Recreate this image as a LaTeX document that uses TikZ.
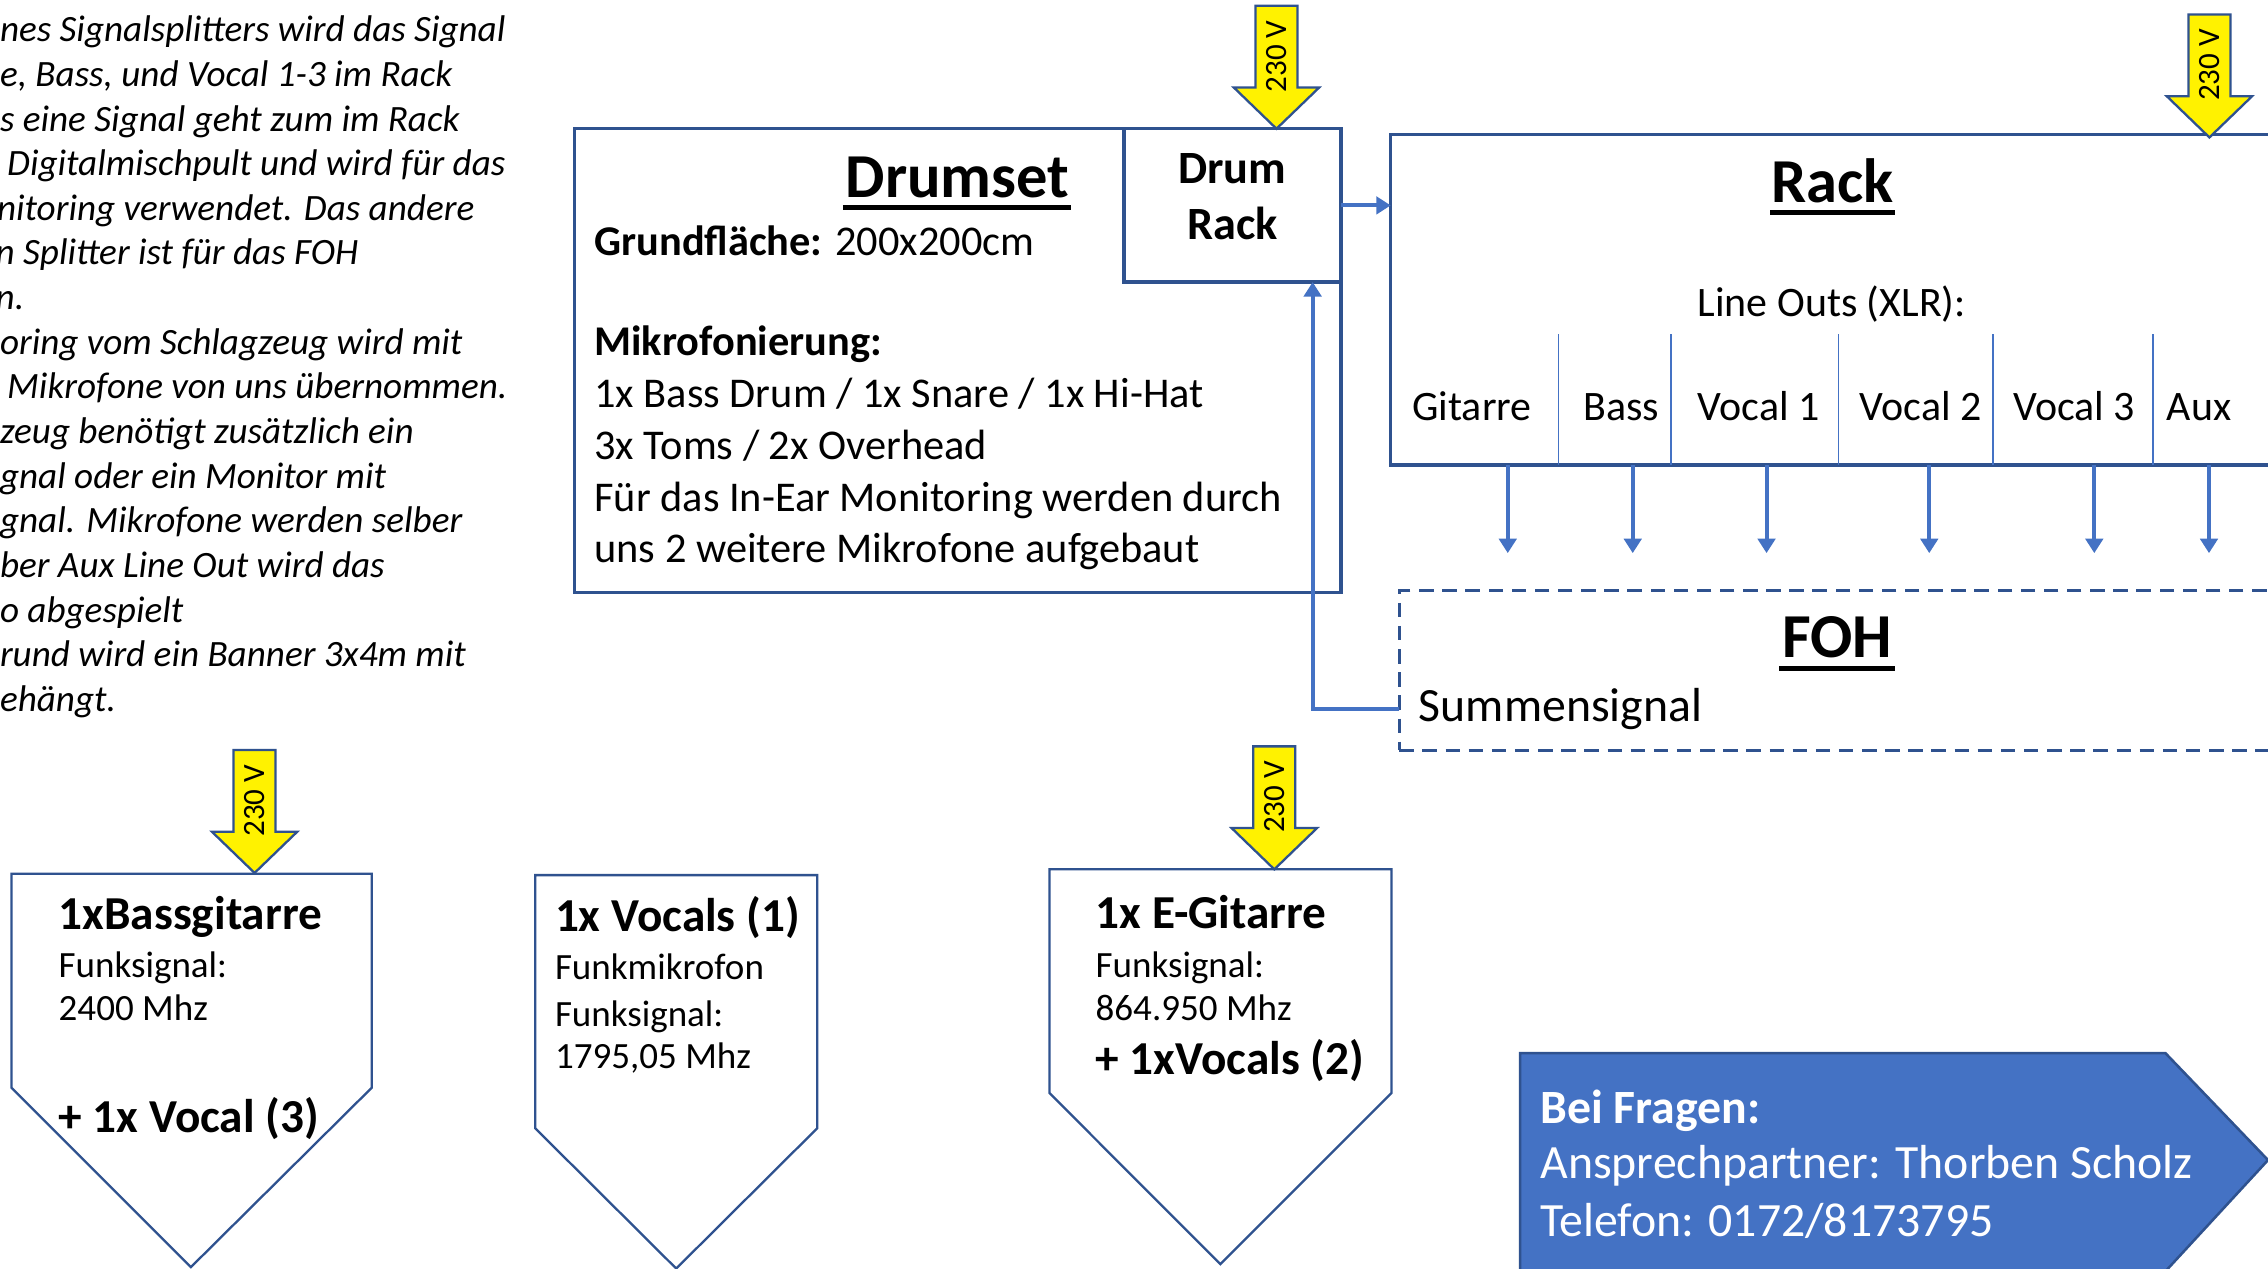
\documentclass[tikz,border=0pt]{standalone}
\usepackage{fontspec}
\setmainfont{Carlito}
\usetikzlibrary{arrows.meta,fit,calc}
\definecolor{dkblue}{HTML}{2F528F}
\definecolor{acblue}{HTML}{4472C4}
\newcommand{\pwrarrow}[3]{%
  \draw[pwr] (#1-14.5,#2) -- (#1+14.5,#2) -- (#1+14.5,#2+56.5) -- (#1+29.5,#2+56.5)
    -- (#1,#2+85) -- (#1-29.5,#2+56.5) -- (#1-14.5,#2+56.5) -- cycle;
  \node[volt] (#3) at (#1,#2+35) {230 V};
}
\tikzset{
  every node/.style={inner sep=0pt, outer sep=0pt},
  itx/.style={anchor=base west, font=\fontsize{14.62pt}{16pt}\selectfont\itshape},
  bodyD/.style={anchor=base west, font=\fontsize{16.67pt}{18pt}\selectfont},
  bodyDb/.style={anchor=base west, font=\fontsize{16.67pt}{18pt}\selectfont\bfseries},
  botB/.style={anchor=base west, font=\fontsize{14.57pt}{16pt}\selectfont},
  botH/.style={anchor=base west, font=\fontsize{18.6pt}{20pt}\selectfont\bfseries},
  titl/.style={anchor=base, font=\fontsize{24.6pt}{26pt}\selectfont\bfseries},
  drb/.style={anchor=base, font=\fontsize{18.2pt}{20pt}\selectfont\bfseries},
  lbl/.style={anchor=base west, font=\fontsize{16.5pt}{18pt}\selectfont},
  big/.style={anchor=base west, font=\fontsize{18.8pt}{20pt}\selectfont},
  volt/.style={rotate=90, font=\fontsize{12.2pt}{13pt}\selectfont},
  box/.style={draw=dkblue, line width=1.3pt},
  ul/.style={line width=1.9pt, black},
  conn/.style={draw=acblue, line width=1.6pt, -{Triangle[length=0.2cm,width=0.24cm]}},
  pwr/.style={fill=yellow, draw=dkblue, line width=0.9pt, line join=miter},
  pent/.style={draw=dkblue, line width=0.9pt, fill=white},
  divl/.style={draw=acblue, line width=0.7pt},
}
\begin{document}
\begin{tikzpicture}[x=0.02cm, y=-0.02cm]
\useasboundingbox[fill=white] (0,0) rectangle (1568,877);

% left italic text
\foreach \i/\xx/\t in {
 0/0/{nes Signalsplitters wird das Signal},
 1/0/{e, Bass, und Vocal 1-3 im Rack},
 2/0/{s eine Signal geht zum im Rack},
 3/5/{Digitalmischpult und wird für das},
 4/-2/{nitoring verwendet. Das andere},
 5/-3/{n Splitter ist für das FOH},
 6/-3/{n.},
 7/0/{oring vom Schlagzeug wird mit},
 8/5/{Mikrofone von uns übernommen.},
 9/0/{zeug benötigt zusätzlich ein},
 10/0/{gnal oder ein Monitor mit},
 11/0/{gnal. Mikrofone werden selber},
 12/0/{ber Aux Line Out wird das},
 13/0/{o abgespielt},
 14/0/{rund wird ein Banner 3x4m mit},
 15/0/{ehängt.}}
 {\node[itx] (l\i) at (\xx, 28.8+30.88*\i) {\t};}

% Drumset
\node[box, fit={(397,89) (927,409.5)}] (drumset) {};
\node[box, fit={(777,89) (927,195)}] (drumrack) {};
\node[titl] (tdrum) at (662,136.5) {Drumset};
\draw[ul] ($(tdrum.base west)+(-2,7)$) -- ($(tdrum.base east)+(1,7)$);
\node[bodyD] (grund) at (411,176.8) {\textbf{Grundfläche:} 200x200cm};
\node[bodyDb] (mikro) at (411,246) {Mikrofonierung:};
\node[bodyD] (m1) at (411,281.5) {1x Bass Drum / 1x Snare / 1x Hi-Hat};
\node[bodyD] (m2) at (411,317.5) {3x Toms / 2x Overhead};
\node[bodyD] (m3) at (411,353.3) {Für das In-Ear Monitoring werden durch};
\node[bodyD] (m4) at (411,388.8) {uns 2 weitere Mikrofone aufgebaut};
\node[drb] (dr1) at (852,127) {Drum};
\node[drb] (dr2) at (852,165.4) {Rack};

% Rack
\node[box, fit={(961.5,93) (1620,321.5)}] (rack) {};
\node[titl] (track) at (1267,140) {Rack};
\draw[ul] ($(track.base west)+(-1,7)$) -- ($(track.base east)+(1,7)$);
\node[lbl] (lineouts) at (1173.7,219) {Line Outs (XLR):};
\foreach \dx in {1077.4,1155,1271,1378,1488.4}
  {\draw[divl] (\dx,231) -- (\dx,321.5);}
\node[lbl] (lg) at (976.4,291) {Gitarre};
\node[lbl] (lb) at (1094.6,291) {Bass};
\node[lbl] (lv1) at (1173.7,291) {Vocal 1};
\node[lbl] (lv2) at (1285.7,291) {Vocal 2};
\node[lbl] (lv3) at (1391.7,291) {Vocal 3};
\node[lbl] (la) at (1498,291) {Aux};

% FOH
\node[draw=dkblue, line width=1.2pt, dash pattern=on 0.2cm off 0.12cm,
      fit={(967.4,408.5) (1620,518.7)}] (foh) {};
\node[titl] (tfoh) at (1270,454.6) {FOH};
\draw[ul] ($(tfoh.base west)+(-2,7.5)$) -- ($(tfoh.base east)+(2,7.5)$);
\node[big] (summ) at (981,499) {Summensignal};

% connectors
\draw[conn] (drumrack.east) -- (drumrack.east -| rack.west);
\coordinate (vline) at (907.5,490.4);
\draw[conn] (vline -| foh.west) -- (vline) -- (vline |- drumrack.south);
\foreach \ox [count=\k] in {1042.4,1128.8,1221.3,1333.8,1447.9,1527.2}
  {\coordinate (o\k) at (\ox,382.4);
   \draw[conn] (o\k |- rack.south) -- (o\k);}

% bottom pentagons
\draw[pent] (8,604) -- (257,604) -- (257,752) -- (132,876) -- (8,752) -- cycle;
\draw[pent] (370,605) -- (565,605) -- (565,780) -- (467.5,877) -- (370,780) -- cycle;
\draw[pent] (725.6,601) -- (962,601) -- (962,755.7) -- (843.7,874) -- (725.6,755.7) -- cycle;

\node[botH] (b1) at (40.6,642.6) {1xBassgitarre};
\node[botB] (b2) at (40.6,675.6) {Funksignal:};
\node[botB] (b3) at (40.6,705.8) {2400 Mhz};
\node[botH] (b4) at (40.6,783) {+ 1x Vocal (3)};

\node[botH] (v1) at (383.7,644) {1x Vocals (1)};
\node[botB] (v2) at (383.7,677) {Funkmikrofon};
\node[botB] (v3) at (383.7,709.5) {Funksignal:};
\node[botB] (v4) at (383.7,738.5) {1795,05 Mhz};

\node[botH] (e1) at (757.5,641.7) {1x E-Gitarre};
\node[botB] (e2) at (757.5,675.6) {Funksignal:};
\node[botB] (e3) at (757.5,705.8) {864.950 Mhz};
\node[botH] (e4) at (757.5,743) {+ 1xVocals (2)};

% contact
\draw[draw=dkblue, fill=acblue, line width=1pt] (1051,728) -- (1497,728) -- (1568,802)
   -- (1497,879) -- (1051,879) -- cycle;
\node[big, text=white, font=\fontsize{18.8pt}{20pt}\selectfont\bfseries] (c1) at (1065,776.4) {Bei Fragen:};
\node[big, text=white] (c2) at (1065,815) {Ansprechpartner: Thorben Scholz};
\node[big, text=white] (c3) at (1065,855) {Telefon: 0172/8173795};

% power arrows
\pwrarrow{882.5}{4}{pdrum}
\pwrarrow{1527.5}{10}{prack}
\pwrarrow{176}{518.5}{pbass}
\pwrarrow{881}{516}{pegit}
\end{tikzpicture}
\end{document}
